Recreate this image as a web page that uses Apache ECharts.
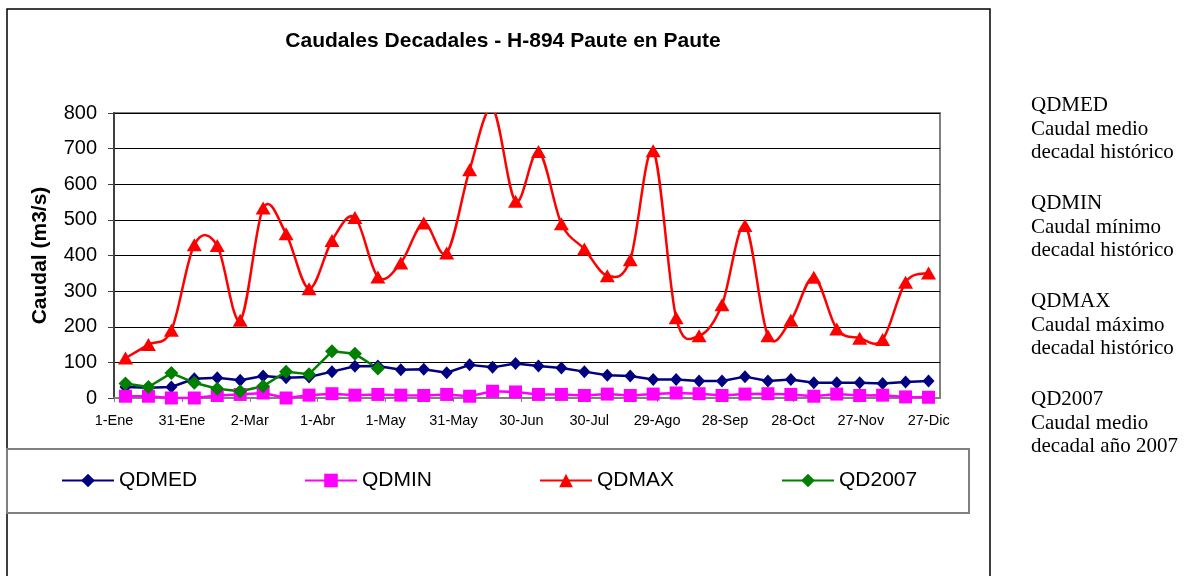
<!DOCTYPE html>
<html>
<head>
<meta charset="utf-8">
<title>Caudales Decadales - H-894 Paute en Paute</title>
<script src="https://cdn.jsdelivr.net/npm/echarts@6/dist/echarts.min.js"></script>
<style>
  html, body { margin: 0; padding: 0; background: #fff; }
  #chart { width: 1195px; height: 576px; }
</style>
</head>
<body>
<div id="chart"></div>
<script>
// 36 decadas del año (3 por mes)
const decadas = [
  'Ene-1', 'Ene-2', 'Ene-3', 'Feb-1', 'Feb-2', 'Feb-3', 'Mar-1', 'Mar-2', 'Mar-3',
  'Abr-1', 'Abr-2', 'Abr-3', 'May-1', 'May-2', 'May-3', 'Jun-1', 'Jun-2', 'Jun-3',
  'Jul-1', 'Jul-2', 'Jul-3', 'Ago-1', 'Ago-2', 'Ago-3', 'Sep-1', 'Sep-2', 'Sep-3',
  'Oct-1', 'Oct-2', 'Oct-3', 'Nov-1', 'Nov-2', 'Nov-3', 'Dic-1', 'Dic-2', 'Dic-3'
]

// etiquetas del eje de fechas, una cada 30 dias
const etiquetasX = ['1-Ene', '31-Ene', '2-Mar', '1-Abr', '1-May', '31-May', '30-Jun',
  '30-Jul', '29-Ago', '28-Sep', '28-Oct', '27-Nov', '27-Dic']

const qdmed = [31, 29, 31, 54, 57, 50, 62, 57, 59, 74, 89, 90,
  79, 81, 71, 93, 86, 97, 90, 84, 74, 64, 62, 52,
  52, 48, 48, 60, 48, 52, 43, 43, 43, 41, 45, 48]

const qdmin = [5, 5, 0, 0, 7, 10, 14, 0, 8, 12, 8, 10,
  8, 7, 10, 5, 19, 17, 10, 10, 7, 11, 7, 11,
  14, 12, 7, 11, 12, 10, 5, 11, 7, 8, 3, 2]

const qdmax = [112, 150, 190, 430, 428, 218, 533, 461, 307, 442, 507, 340,
  379, 491, 407, 641, 812, 552, 692, 489, 418, 343, 388, 694,
  225, 175, 262, 484, 175, 218, 339, 194, 168, 164, 325, 351]

const qd2007 = [41, 31, 70, 43, 26, 19, 33, 74, 67, 131, 124, 83,
  null, null, null, null, null, null, null, null, null, null, null, null,
  null, null, null, null, null, null, null, null, null, null, null, null]

const notas = [
  'QDMED\nCaudal medio\ndecadal histórico',
  'QDMIN\nCaudal mínimo\ndecadal histórico',
  'QDMAX\nCaudal máximo\ndecadal histórico',
  'QD2007\nCaudal medio\ndecadal año 2007'
]

const FONT = 'Arial, "Liberation Sans", sans-serif'
const SERIF = '"Times New Roman", "Liberation Serif", serif'

const legendPos = [61, 304, 539, 781]
const nombres = ['QDMED', 'QDMIN', 'QDMAX', 'QD2007']

const chart = echarts.init(document.getElementById('chart'))

// curva suavizada tipo Excel (Catmull-Rom), con las coordenadas del propio eje
const renderCurva = (params, api) => {
  if (params.dataIndex !== 0) return
  const pts = qdmax.map((v, i) => api.coord([i, v]))
  const n = pts.length
  let d = 'M' + pts[0][0] + ' ' + pts[0][1]
  for (let i = 0; i < n - 1; i++) {
    const p0 = pts[Math.max(i - 1, 0)]
    const p1 = pts[i]
    const p2 = pts[i + 1]
    const p3 = pts[Math.min(i + 2, n - 1)]
    const c1x = p1[0] + (p2[0] - p0[0]) / 6
    const c1y = p1[1] + (p2[1] - p0[1]) / 6
    const c2x = p2[0] - (p3[0] - p1[0]) / 6
    const c2y = p2[1] - (p3[1] - p1[1]) / 6
    d += ' C' + c1x + ' ' + c1y + ' ' + c2x + ' ' + c2y + ' ' + p2[0] + ' ' + p2[1]
  }
  return {
    type: 'path',
    shape: { pathData: d },
    style: { fill: null, stroke: '#FF0000', lineWidth: 2.5 }
  }
}

const option = {
  animation: false,
  backgroundColor: '#fff',
  title: {
    text: 'Caudales Decadales - H-894 Paute en Paute',
    left: 498,
    top: 26,
    textAlign: 'center',
    textStyle: {
      fontFamily: FONT,
      fontSize: 21,
      fontWeight: 'bold',
      color: '#000'
    }
  },
  legend: nombres.map((n, i) => ({
    data: [n],
    left: legendPos[i],
    top: 470,
    padding: 0,
    itemWidth: 52,
    itemHeight: 17,
    lineStyle: { opacity: 1 },
    textStyle: {
      fontFamily: FONT,
      fontSize: 21,
      color: '#000'
    }
  })),
  grid: {
    left: 114,
    top: 113,
    width: 826,
    height: 285,
    show: true,
    backgroundColor: '#fff',
    borderColor: '#808080',
    borderWidth: 2
  },
  xAxis: [
    {
      type: 'category',
      data: decadas,
      boundaryGap: true,
      position: 'top',
      show: false
    },
    {
      type: 'value',
      position: 'bottom',
      min: 0,
      max: 365,
      interval: 30,
      splitLine: { show: false },
      axisLine: {
        show: true,
        lineStyle: { color: '#808080', width: 2 }
      },
      axisTick: {
        show: true,
        length: 4,
        lineStyle: { color: '#808080' }
      },
      axisLabel: {
        margin: 15,
        fontFamily: FONT,
        fontSize: 14.5,
        color: '#000',
        showMaxLabel: false,
        formatter: (v) => (v % 30 === 0 ? etiquetasX[v / 30] : '')
      }
    }
  ],
  yAxis: {
    type: 'value',
    min: 0,
    max: 800,
    interval: 100,
    name: 'Caudal (m3/s)',
    nameLocation: 'middle',
    nameRotate: 90,
    nameGap: 63,
    nameTextStyle: {
      fontFamily: FONT,
      fontSize: 21,
      fontWeight: 'bold',
      color: '#000'
    },
    axisLine: {
      show: true,
      lineStyle: { color: '#404040', width: 2 }
    },
    axisTick: {
      show: true,
      length: 6,
      lineStyle: { color: '#404040' }
    },
    axisLabel: {
      margin: 17,
      fontFamily: FONT,
      fontSize: 20,
      color: '#000'
    },
    splitLine: {
      lineStyle: { color: '#000', width: 1 }
    }
  },
  series: [
    {
      name: 'QDMED',
      type: 'line',
      data: qdmed,
      symbol: 'diamond',
      symbolSize: [12, 13],
      itemStyle: { color: '#000080' },
      lineStyle: { color: '#000080', width: 2.5 }
    },
    {
      name: 'QDMIN',
      type: 'line',
      data: qdmin,
      symbol: 'rect',
      symbolSize: 13,
      itemStyle: { color: '#FF00FF' },
      lineStyle: { color: '#FF00FF', width: 2.5 }
    },
    {
      name: 'QDMAX-curva',
      type: 'custom',
      clip: true,
      silent: true,
      data: qdmax.map((v, i) => [i, v]),
      encode: { x: 0, y: 1 },
      renderItem: renderCurva
    },
    {
      name: 'QDMAX',
      type: 'line',
      data: qdmax,
      symbol: 'triangle',
      symbolSize: [15, 13],
      itemStyle: { color: '#FF0000' },
      lineStyle: { color: '#FF0000', width: 2.5, opacity: 0 }
    },
    {
      name: 'QD2007',
      type: 'line',
      data: qd2007,
      symbol: 'diamond',
      symbolSize: [14, 14],
      itemStyle: { color: '#008000' },
      lineStyle: { color: '#008000', width: 2.5 }
    }
  ],
  graphic: [
    {
      type: 'rect',
      silent: true,
      shape: { x: 7, y: 9, width: 983, height: 600 },
      style: { fill: null, stroke: '#000', lineWidth: 1.5 }
    },
    {
      type: 'rect',
      silent: true,
      shape: { x: 7, y: 449, width: 962, height: 64 },
      style: { fill: null, stroke: '#808080', lineWidth: 2 }
    },
    ...notas.map((t, i) => ({
      type: 'text',
      silent: true,
      x: 1031,
      y: 94 + i * 98,
      style: {
        text: t,
        font: '21px ' + SERIF,
        lineHeight: 23.5,
        fill: '#000',
        verticalAlign: 'top'
      }
    }))
  ]
}

chart.setOption(option)
</script>
</body>
</html>
